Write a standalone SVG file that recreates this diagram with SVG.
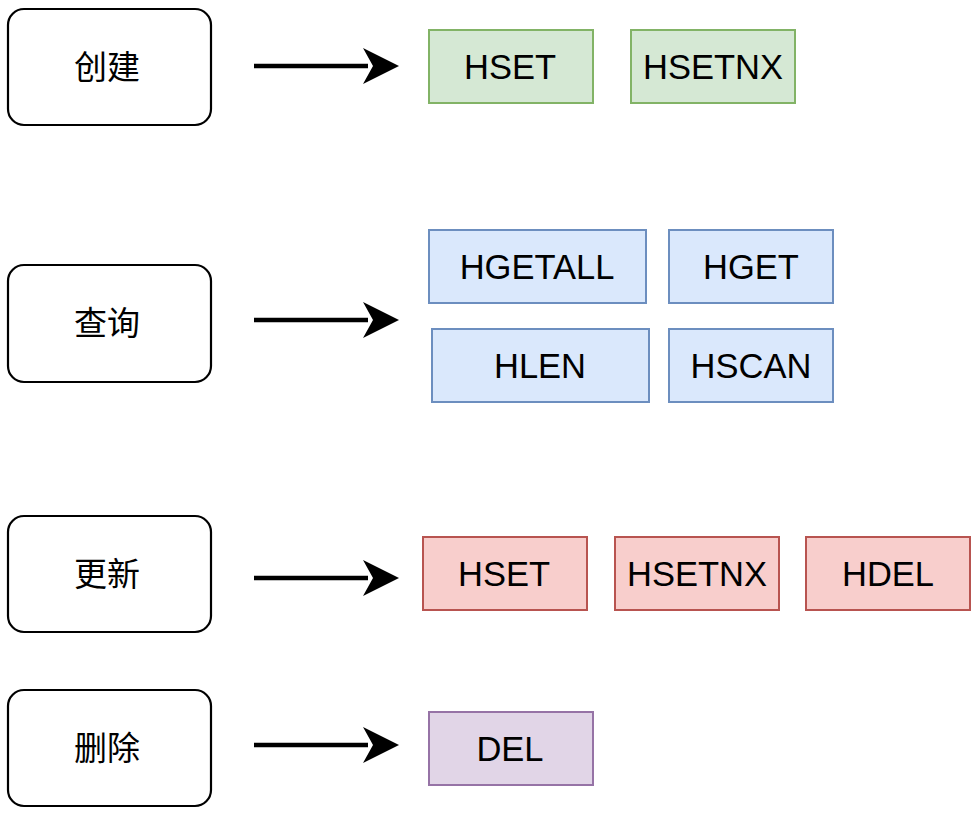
<svg xmlns="http://www.w3.org/2000/svg" width="978" height="819" viewBox="0 0 978 819">
<style>
.cat{fill:#ffffff;stroke:#000000;stroke-width:2.2}
.g{fill:#d5e8d4;stroke:#82b366;stroke-width:2}
.b{fill:#dae8fc;stroke:#6c8ebf;stroke-width:2}
.r{fill:#f8cecc;stroke:#b85450;stroke-width:2}
.p{fill:#e1d5e7;stroke:#9673a6;stroke-width:2}
.zh{font-family:"Noto Sans CJK SC","Noto Sans",sans-serif;font-size:33px;font-weight:400;fill:#000;text-anchor:middle}
.en{font-family:"Liberation Sans",Arial,sans-serif;font-size:34.5px;fill:#000;text-anchor:middle}
.ln{stroke:#000;stroke-width:4.5;fill:none}
.ah{fill:#000}
</style>
<rect width="978" height="819" fill="#ffffff"/>
<g id="connectors">
<path class="ln" d="M254,66 L368,66"/>
<path class="ah" d="M399,66 L363,48 L373,66 L363,84 Z"/>
<path class="ln" d="M254,320 L368,320"/>
<path class="ah" d="M399,320 L363,302 L373,320 L363,338 Z"/>
<path class="ln" d="M254,578 L368,578"/>
<path class="ah" d="M399,578 L363,560 L373,578 L363,596 Z"/>
<path class="ln" d="M254,745 L368,745"/>
<path class="ah" d="M399,745 L363,727 L373,745 L363,763 Z"/>
</g>
<g id="create"><rect class="cat" x="8" y="9" width="203" height="116" rx="16"/><text class="zh" x="107" y="79">创建</text></g>
<g id="query"><rect class="cat" x="8" y="265" width="203" height="117" rx="16"/><text class="zh" x="107" y="335">查询</text></g>
<g id="update"><rect class="cat" x="8" y="516" width="203" height="116" rx="16"/><text class="zh" x="107" y="586">更新</text></g>
<g id="delete"><rect class="cat" x="8" y="690" width="203" height="116" rx="16"/><text class="zh" x="107" y="760">删除</text></g>
<g id="c-hset"><rect class="g" x="429" y="30" width="164" height="73"/><text class="en" x="510" y="79">HSET</text></g>
<g id="c-hsetnx"><rect class="g" x="631" y="30" width="164" height="73"/><text class="en" x="713" y="79">HSETNX</text></g>
<g id="q-hgetall"><rect class="b" x="429" y="230" width="217" height="73"/><text class="en" x="537" y="279">HGETALL</text></g>
<g id="q-hget"><rect class="b" x="669" y="230" width="164" height="73"/><text class="en" x="751" y="279">HGET</text></g>
<g id="q-hlen"><rect class="b" x="432" y="329" width="217" height="73"/><text class="en" x="540" y="378">HLEN</text></g>
<g id="q-hscan"><rect class="b" x="669" y="329" width="164" height="73"/><text class="en" x="751" y="378">HSCAN</text></g>
<g id="u-hset"><rect class="r" x="423" y="537" width="164" height="73"/><text class="en" x="504" y="586">HSET</text></g>
<g id="u-hsetnx"><rect class="r" x="615" y="537" width="164" height="73"/><text class="en" x="697" y="586">HSETNX</text></g>
<g id="u-hdel"><rect class="r" x="806" y="537" width="164" height="73"/><text class="en" x="888" y="586">HDEL</text></g>
<g id="d-del"><rect class="p" x="429" y="712" width="164" height="73"/><text class="en" x="510" y="761">DEL</text></g>
</svg>
